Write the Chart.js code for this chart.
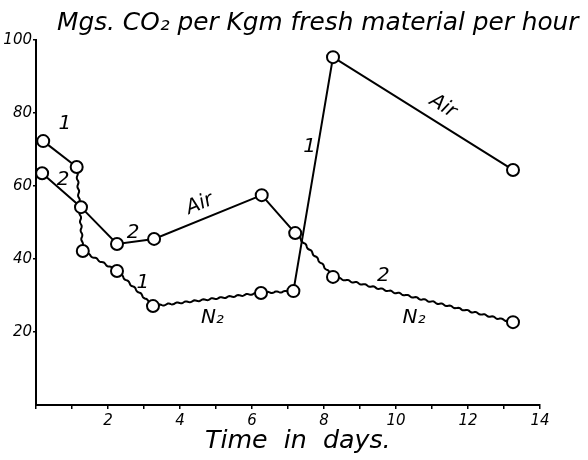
<!DOCTYPE html>
<html>
<head>
<meta charset="utf-8">
<script src="https://cdn.jsdelivr.net/npm/chart.js@4.4.0/dist/chart.umd.min.js"></script>
<style>
  html, body { margin: 0; padding: 0; background: #fff; }
  #wrap { width: 588px; height: 460px; position: relative; }
</style>
</head>
<body>
<div id="wrap"><canvas id="chart"></canvas></div>
<script>
// Data (days, mg CO2 per kg per hour)
const days1 = [0.2, 1.13, 1.3, 2.25, 3.25, 6.25, 7.15, 8.25, 13.25];
const co2_1 = [72.3, 65.2, 42.2, 36.7, 27.1, 30.7, 31.2, 95.3, 64.4];
const days2 = [0.17, 1.25, 2.25, 3.28, 6.27, 7.2, 8.25, 13.25];
const co2_2 = [63.5, 54.2, 44.1, 45.5, 57.5, 47.1, 35.1, 22.7];

// segments (by start index) run under nitrogen - drawn wavy
const n2Seg1 = [1, 2, 3, 4, 5];
const n2Seg2 = [5, 6];

const xTicks = [2, 4, 6, 8, 10, 12, 14];
const yTicks = [20, 40, 60, 80, 100];

// hand-written notes on the plot, in data units
const notes = [
    { text: '1', x: 0.8, y: 77, rot: 0 },
    { text: '2', x: 0.75, y: 61.6, rot: 0 },
    { text: '2', x: 2.7, y: 47.2, rot: 0 },
    { text: 'Air', x: 4.55, y: 55, rot: -22 },
    { text: '1', x: 2.97, y: 33.4, rot: 0 },
    { text: 'N\u2082', x: 4.9, y: 24, rot: 0 },
    { text: '1', x: 7.6, y: 70.7, rot: 0 },
    { text: 'Air', x: 11.3, y: 81.8, rot: 32 },
    { text: '2', x: 9.65, y: 35.5, rot: 0 },
    { text: 'N\u2082', x: 10.5, y: 24, rot: 0 }
];

const FONT = '"DejaVu Sans", sans-serif';

function toPoints(xs, ys) {
    return xs.map(function(x, i) { return { x: x, y: ys[i] }; });
}

function segStyle(list) {
    return function(ctx) {
        return list.indexOf(ctx.p0DataIndex) >= 0 ? 'rgba(0,0,0,0)' : '#000';
    };
}

// wavy lines for the N2 parts, using the element positions from the chart
const wavyPlugin = {
    id: 'wavy',
    beforeDatasetsDraw: function(chart) {
        const ctx = chart.ctx;
        const lists = [n2Seg1, n2Seg2];
        ctx.save();
        ctx.strokeStyle = '#000';
        ctx.lineWidth = 2;
        lists.forEach(function(list, di) {
            const pts = chart.getDatasetMeta(di).data;
            list.forEach(function(i) {
                const a = pts[i], b = pts[i + 1];
                const dx = b.x - a.x, dy = b.y - a.y;
                const len = Math.sqrt(dx * dx + dy * dy);
                const nx = -dy / len, ny = dx / len;
                ctx.beginPath();
                for (let s = 0; s <= len; s += 1) {
                    const off = Math.sin(s / 1.4) * 0.7;
                    const px = a.x + dx * s / len + nx * off;
                    const py = a.y + dy * s / len + ny * off;
                    if (s === 0) ctx.moveTo(px, py); else ctx.lineTo(px, py);
                }
                ctx.lineTo(b.x, b.y);
                ctx.stroke();
            });
        });
        ctx.restore();
    }
};

function fitText(ctx, text, style, width) {
    ctx.font = style + ' 20px ' + FONT;
    const size = 20 * width / ctx.measureText(text).width;
    ctx.font = style + ' ' + size.toFixed(1) + 'px ' + FONT;
}

const textPlugin = {
    id: 'texts',
    afterDraw: function(chart) {
        const ctx = chart.ctx;
        const xs = chart.scales.x, ys = chart.scales.y;
        ctx.save();
        ctx.fillStyle = '#000';
        ctx.textAlign = 'center';
        ctx.textBaseline = 'middle';
        ctx.font = 'italic 20px ' + FONT;
        notes.forEach(function(n) {
            ctx.save();
            ctx.translate(xs.getPixelForValue(n.x), ys.getPixelForValue(n.y));
            ctx.rotate(n.rot * Math.PI / 180);
            ctx.fillText(n.text, 0, 0);
            ctx.restore();
        });
        // title
        const title = 'Mgs. CO\u2082 per Kgm fresh material per hour';
        fitText(ctx, title, 'italic', 522);
        ctx.textAlign = 'left';
        ctx.fillText(title, 57, 24);
        // x axis title
        const xt = 'Time  in  days.';
        fitText(ctx, xt, 'italic', 186);
        ctx.textAlign = 'left';
        ctx.fillText(xt, 205, 441);
        ctx.restore();
    }
};

const ctx = document.getElementById('chart').getContext('2d');
new Chart(ctx, {
    type: 'line',
    data: {
        datasets: [{
            data: toPoints(days1, co2_1),
            borderColor: '#000',
            borderWidth: 2,
            pointRadius: 6,
            pointBorderWidth: 2,
            pointBackgroundColor: '#fff',
            pointBorderColor: '#000',
            segment: { borderColor: segStyle(n2Seg1) }
        }, {
            data: toPoints(days2, co2_2),
            borderColor: '#000',
            borderWidth: 2,
            pointRadius: 6,
            pointBorderWidth: 2,
            pointBackgroundColor: '#fff',
            pointBorderColor: '#000',
            segment: { borderColor: segStyle(n2Seg2) }
        }]
    },
    options: {
        responsive: true,
        maintainAspectRatio: false,
        animation: false,
        layout: { padding: { top: 40, right: 48, left: 0, bottom: 0 } },
        plugins: { legend: { display: false }, tooltip: { enabled: false } },
        scales: {
            x: {
                type: 'linear',
                min: 0,
                max: 14,
                afterFit: function(s) { s.height = 55; },
                afterBuildTicks: function(s) {
                    s.ticks = [];
                    for (let d = 0; d <= 14; d++) s.ticks.push({ value: d });
                },
                ticks: {
                    autoSkip: false,
                    maxRotation: 0,
                    color: '#000',
                    padding: 3,
                    font: { family: FONT, style: 'italic', size: 15 },
                    callback: function(v) { return xTicks.indexOf(v) >= 0 ? v : ''; }
                },
                grid: { drawOnChartArea: false, tickLength: 4, color: '#000', lineWidth: 1.5 },
                border: { color: '#000', width: 2 }
            },
            y: {
                type: 'linear',
                min: 0,
                max: 100,
                afterFit: function(s) { s.width = 36; },
                afterBuildTicks: function(s) {
                    s.ticks = yTicks.map(function(v) { return { value: v }; });
                },
                ticks: {
                    color: '#000',
                    padding: 1,
                    font: { family: FONT, style: 'italic', size: 15 }
                },
                grid: { drawOnChartArea: false, tickLength: 3, color: '#000', lineWidth: 1.5 },
                border: { color: '#000', width: 2 }
            }
        }
    },
    plugins: [wavyPlugin, textPlugin]
});
</script>
</body>
</html>
